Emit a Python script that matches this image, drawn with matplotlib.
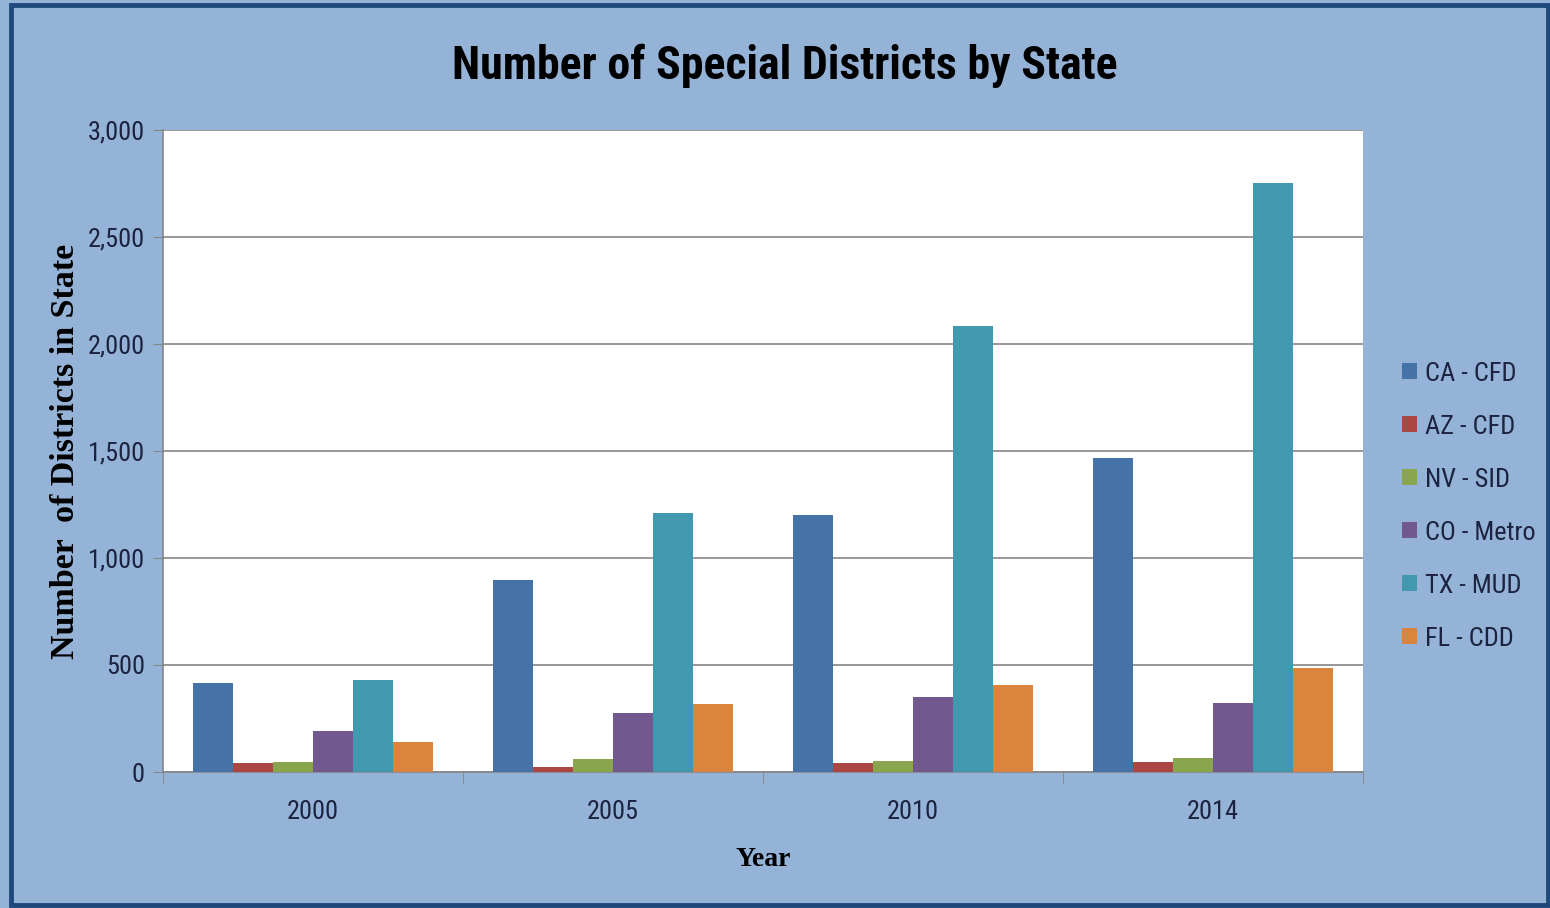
"""
plot.py
=============================
Grouped bar chart of the number of special districts by state.
"""

import numpy as np
import matplotlib
matplotlib.use('Agg')
import matplotlib.pyplot as plt
from matplotlib import font_manager
from matplotlib.patches import Rectangle
from matplotlib.ticker import FuncFormatter

# Data
Years  = ['2000', '2005', '2010', '2014']
Series = ['CA - CFD', 'AZ - CFD', 'NV - SID', 'CO - Metro', 'TX - MUD', 'FL - CDD']
CA_CFD   = [415, 897, 1201, 1467]
AZ_CFD   = [40, 25, 42, 48]
NV_SID   = [48, 59, 51, 67]
CO_Metro = [192, 274, 350, 321]
TX_MUD   = [430, 1210, 2084, 2752]
FL_CDD   = [142, 316, 407, 485]
Colors = ['#4572A7', '#AA4643', '#89A54E', '#71588F', '#4198AF', '#DB843D']

# Pick a narrow sans family (Calibri-like) if one is installed
Installed = {f.name for f in font_manager.fontManager.ttflist}
Narrow_Name = 'Liberation Sans'
for Cand in ['Liberation Sans Narrow', 'DejaVu Sans Condensed', 'Roboto Condensed',
		'Open Sans Condensed', 'Noto Sans Condensed', 'Lato']:
	if Cand in Installed:
		Narrow_Name = Cand
		break
Narrow = [Narrow_Name, 'DejaVu Sans']
Serif  = ['Liberation Serif', 'DejaVu Serif']

def Plot_Bars():

	fig = plt.figure(figsize=(15.5, 9.08), dpi=100)
	fig.patch.set_facecolor('#95B3D7')

	# Outer border
	fig.patches.append(Rectangle((11/1550, 3/908), 1537/1550, 900/908, transform=fig.transFigure,
		fill=False, edgecolor='#1F497D', linewidth=3.5))

	ax = fig.add_axes([163/1550, 1-772/908, 1200/1550, 642/908])
	ax.set_facecolor('white')

	Data = [CA_CFD, AZ_CFD, NV_SID, CO_Metro, TX_MUD, FL_CDD]
	x = np.arange(len(Years))
	w = 0.8/len(Series)
	for i, (Name, Vals) in enumerate(zip(Series, Data)):
		ax.bar(x + (i - 2.5)*w, Vals, width=w, color=Colors[i], label=Name, zorder=3)

	# Axes configuration
	ax.set_xlim(-0.5, 3.5)
	ax.set_ylim(0, 3000)
	ax.set_yticks(range(0, 3001, 500))
	ax.yaxis.set_major_formatter(FuncFormatter(lambda v, p: '{:,.0f}'.format(v)))
	ax.set_xticks(x)
	ax.set_xticklabels(Years)
	ax.set_xticks(np.arange(-0.5, 3.6, 1), minor=True)
	ax.tick_params(axis='x', which='major', length=0, pad=20, labelsize=19, labelcolor='#1C2340')
	ax.tick_params(axis='x', which='minor', length=8, color='#868686', direction='out')
	ax.tick_params(axis='y', length=7, color='#868686', pad=6, labelsize=19, labelcolor='#1C2340')
	for lbl in ax.get_xticklabels() + ax.get_yticklabels():
		lbl.set_family(Narrow)
	ax.grid(axis='y', color='#868686', linewidth=1.2, zorder=0)
	for s in ['top', 'right']:
		ax.spines[s].set_visible(False)
	for s in ['left', 'bottom']:
		ax.spines[s].set_color('#868686')
		ax.spines[s].set_linewidth(1.2)

	ax.set_xlabel('Year', family=Serif, fontweight='bold', fontsize=20, labelpad=17)
	ax.set_ylabel('Number  of Districts in State', family=Serif, fontweight='bold', fontsize=24.5)
	ax.yaxis.set_label_coords(-0.068, 0.5)

	fig.text(785/1550, 1-66/908, 'Number of Special Districts by State', family=Narrow,
		fontweight='bold', fontsize=33, ha='center', va='center')

	leg = ax.legend(loc='center left', bbox_to_anchor=(1.013, 0.414), frameon=False,
		prop={'family': Narrow, 'size': 19}, handlelength=0.55, handleheight=0.55,
		handletextpad=0.3, labelspacing=1.1, labelcolor='#1C2340')

	plt.savefig('out.png', dpi=100, facecolor=fig.get_facecolor())
	plt.close()

	return

if (__name__ == '__main__'):

	Plot_Bars()
